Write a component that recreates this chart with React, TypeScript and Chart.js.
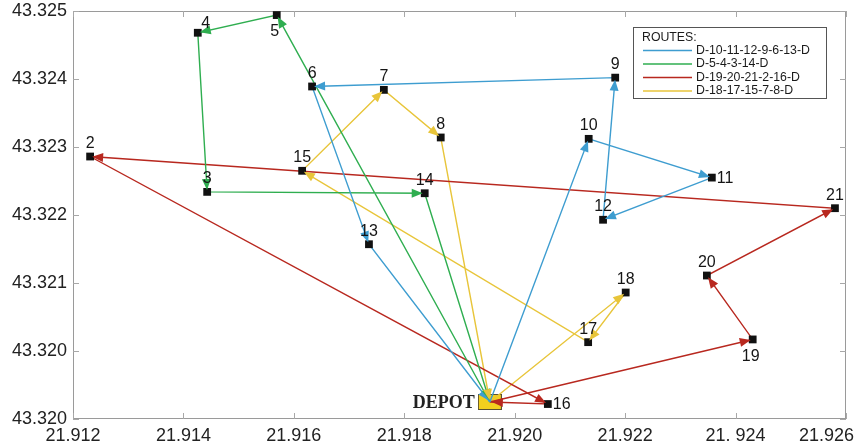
import React, { useEffect, useRef } from 'react';
import { Chart, registerables } from 'chart.js';

Chart.register(...registerables);

// ---- Data ----
const nodeIds = ['D', '2', '3', '4', '5', '6', '7', '8', '9', '10', '11', '12', '13', '14', '15', '16', '17', '18', '19', '20', '21'];
const nodeLon = [21.91955, 21.91231, 21.91443, 21.91426, 21.91569, 21.91633, 21.91763, 21.91866, 21.92182, 21.92134, 21.92357, 21.92160, 21.91736, 21.91837, 21.91615, 21.92060, 21.92133, 21.92201, 21.92431, 21.92348, 21.92580];
const nodeLat = [43.31925, 43.32286, 43.32234, 43.32468, 43.32494, 43.32389, 43.32384, 43.32314, 43.32402, 43.32312, 43.32255, 43.32193, 43.32157, 43.32232, 43.32265, 43.31922, 43.32013, 43.32086, 43.32017, 43.32111, 43.32210];
const labelPlacement = ['left', 'above', 'above', 'aboveRight', 'below', 'above', 'above', 'above', 'above', 'above', 'right', 'above', 'above', 'above', 'above', 'right', 'above', 'above', 'below', 'above', 'above'];
const depotLabel = 'DEPOT';

const legendTitle = 'ROUTES:';
const routeNames = ['D-10-11-12-9-6-13-D', 'D-5-4-3-14-D', 'D-19-20-21-2-16-D', 'D-18-17-15-7-8-D'];
const routeBlue = ['D', '10', '11', '12', '9', '6', '13', 'D'];
const routeGreen = ['D', '5', '4', '3', '14', 'D'];
const routeRed = ['D', '19', '20', '21', '2', '16', 'D'];
const routeYellow = ['D', '18', '17', '15', '7', '8', 'D'];
const routeColors = ['#3e9dd0', '#2fae50', '#b8281f', '#e8c53a'];

const xTickValues = [21.912, 21.914, 21.916, 21.918, 21.92, 21.922, 21.924, 21.926];
const xTickLabels = ['21.912', '21.914', '21.916', '21.918', '21.920', '21.922', '21. 924', '21.926'];
const yTickValues = [43.319, 43.32, 43.321, 43.322, 43.323, 43.324, 43.325];
const yTickLabels = ['43.320', '43.320', '43.321', '43.322', '43.323', '43.324', '43.325'];

const SANS = "'Liberation Sans', Arial, sans-serif";
const SERIF = "'Liberation Serif', 'Times New Roman', serif";

function routePoints(route: string[]) {
  return route.map((id) => {
    const i = nodeIds.indexOf(id);
    return { x: nodeLon[i], y: nodeLat[i] };
  });
}

const framePlugin = {
  id: 'frame',
  beforeDatasetsDraw(chart: any) {
    const { ctx, chartArea: a, scales } = chart;
    ctx.save();
    ctx.strokeStyle = '#9a9a9a';
    ctx.lineWidth = 1;
    ctx.strokeRect(a.left + 0.5, a.top + 0.5, a.right - a.left - 1, a.bottom - a.top - 1);
    ctx.strokeStyle = '#a8a8a8';
    const tl = 6;
    ctx.beginPath();
    xTickValues.forEach((v) => {
      const px = Math.round(scales.x.getPixelForValue(v)) + 0.5;
      ctx.moveTo(px, a.bottom);
      ctx.lineTo(px, a.bottom - tl);
      ctx.moveTo(px, a.top);
      ctx.lineTo(px, a.top + tl);
    });
    yTickValues.forEach((v) => {
      const py = Math.round(scales.y.getPixelForValue(v)) + 0.5;
      ctx.moveTo(a.left, py);
      ctx.lineTo(a.left + tl, py);
      ctx.moveTo(a.right, py);
      ctx.lineTo(a.right - tl, py);
    });
    ctx.stroke();
    ctx.restore();
  },
  afterDraw(chart: any) {
    // x tick labels (clamped inside the canvas)
    const { ctx, chartArea: a, scales, width } = chart;
    ctx.save();
    ctx.font = `18px ${SANS}`;
    ctx.fillStyle = '#222';
    ctx.textAlign = 'center';
    ctx.textBaseline = 'middle';
    xTickValues.forEach((v, i) => {
      let px = scales.x.getPixelForValue(v);
      const w = ctx.measureText(xTickLabels[i]).width;
      if (px + w / 2 > width - 3) px = width - 3 - w / 2;
      ctx.fillText(xTickLabels[i], px, a.bottom + 17);
    });
    ctx.restore();
  },
};

const arrowPlugin = {
  id: 'arrows',
  afterDatasetsDraw(chart: any) {
    const { ctx } = chart;
    ctx.save();
    chart.data.datasets.forEach((ds: any, di: number) => {
      if (ds.kind !== 'route') return;
      const pts = chart.getDatasetMeta(di).data;
      for (let i = 1; i < pts.length; i++) {
        const a = pts[i - 1];
        const b = pts[i];
        const dx = b.x - a.x;
        const dy = b.y - a.y;
        const len = Math.hypot(dx, dy) || 1;
        const ux = dx / len;
        const uy = dy / len;
        const tipX = b.x - ux * 2;
        const tipY = b.y - uy * 2;
        const L = 11;
        const W = 4.5;
        const bx = tipX - ux * L;
        const by = tipY - uy * L;
        ctx.beginPath();
        ctx.moveTo(tipX, tipY);
        ctx.lineTo(bx - uy * W, by + ux * W);
        ctx.lineTo(bx + uy * W, by - ux * W);
        ctx.closePath();
        ctx.fillStyle = ds.borderColor;
        ctx.fill();
      }
    });
    ctx.restore();
  },
};

const labelPlugin = {
  id: 'nodeLabels',
  afterDatasetsDraw(chart: any) {
    const { ctx, scales } = chart;
    ctx.save();
    nodeIds.forEach((id, i) => {
      const px = scales.x.getPixelForValue(nodeLon[i]);
      const py = scales.y.getPixelForValue(nodeLat[i]);
      const p = labelPlacement[i];
      if (id === 'D') {
        ctx.font = `bold 18px ${SERIF}`;
        ctx.fillStyle = '#222';
        ctx.textAlign = 'right';
        ctx.textBaseline = 'middle';
        ctx.fillText(depotLabel, px - 15, py + 1);
        return;
      }
      ctx.font = `16px ${SANS}`;
      ctx.fillStyle = '#151515';
      ctx.textBaseline = 'middle';
      if (p === 'above') {
        ctx.textAlign = 'center';
        ctx.fillText(id, px, py - 13);
      } else if (p === 'aboveRight') {
        ctx.textAlign = 'center';
        ctx.fillText(id, px + 8, py - 9);
      } else if (p === 'below') {
        ctx.textAlign = 'center';
        ctx.fillText(id, px - 2, py + 17);
      } else if (p === 'right') {
        ctx.textAlign = 'left';
        ctx.fillText(id, px + 5, py + 1);
      }
    });
    ctx.restore();
  },
};

const legendPlugin = {
  id: 'routesLegend',
  afterDraw(chart: any) {
    const { ctx, chartArea: a } = chart;
    const left = a.right - 213;
    const top = a.top + 16;
    const w = 194;
    const h = 72;
    ctx.save();
    ctx.fillStyle = '#ffffff';
    ctx.fillRect(left, top, w, h);
    ctx.strokeStyle = '#555';
    ctx.lineWidth = 1;
    ctx.strokeRect(left + 0.5, top + 0.5, w - 1, h - 1);
    ctx.font = `12.3px ${SANS}`;
    ctx.fillStyle = '#1a1a1a';
    ctx.textAlign = 'left';
    ctx.textBaseline = 'middle';
    ctx.fillText(legendTitle, left + 9, top + 11);
    const routes = chart.data.datasets.filter((d: any) => d.kind === 'route');
    routes.forEach((ds: any, i: number) => {
      const y = top + 23.5 + i * 13.5;
      ctx.strokeStyle = ds.borderColor;
      ctx.lineWidth = 1.5;
      ctx.beginPath();
      ctx.moveTo(left + 10, y);
      ctx.lineTo(left + 59, y);
      ctx.stroke();
      ctx.fillStyle = '#1a1a1a';
      ctx.fillText(ds.label, left + 63, y);
    });
    ctx.restore();
  },
};

export default function App() {
  const canvasRef = useRef<HTMLCanvasElement | null>(null);

  useEffect(() => {
    document.body.style.margin = '0';
    const canvas = canvasRef.current;
    if (!canvas) return;

    const depotImg = document.createElement('canvas');
    depotImg.width = 24;
    depotImg.height = 16;
    const dctx = depotImg.getContext('2d')!;
    dctx.fillStyle = '#f3cf1e';
    dctx.fillRect(0, 0, 24, 16);
    dctx.strokeStyle = '#5a5030';
    dctx.lineWidth = 1;
    dctx.strokeRect(0.5, 0.5, 23, 15);

    const routes = [routeBlue, routeGreen, routeRed, routeYellow];
    const di = nodeIds.indexOf('D');

    const datasets: any[] = routes.map((r, i) => ({
      kind: 'route',
      label: routeNames[i],
      data: routePoints(r),
      showLine: true,
      borderColor: routeColors[i],
      backgroundColor: routeColors[i],
      borderWidth: 1.4,
      pointRadius: 0,
      tension: 0,
      fill: false,
      order: 1,
    }));
    datasets.push({
      kind: 'nodes',
      label: 'nodes',
      data: nodeIds.map((id, i) => ({ x: nodeLon[i], y: nodeLat[i] })).filter((_, i) => nodeIds[i] !== 'D'),
      pointStyle: 'rect',
      pointRadius: 5.5,
      pointBorderWidth: 0,
      pointBackgroundColor: '#111',
      pointBorderColor: '#111',
      showLine: false,
      order: 0,
    });
    datasets.push({
      kind: 'depot',
      label: 'depot',
      data: [{ x: nodeLon[di], y: nodeLat[di] }],
      pointStyle: depotImg,
      pointRadius: 10,
      showLine: false,
      order: 5,
    });

    const chart = new Chart(canvas, {
      type: 'scatter',
      data: { datasets },
      options: {
        animation: false,
        responsive: false,
        devicePixelRatio: 1,
        events: [],
        layout: { padding: { top: 10, right: 10, left: 0, bottom: 0 } },
        plugins: {
          legend: { display: false },
          tooltip: { enabled: false },
          title: { display: false },
        },
        scales: {
          x: {
            type: 'linear',
            min: xTickValues[0],
            max: xTickValues[xTickValues.length - 1],
            afterBuildTicks: (s: any) => {
              s.ticks = xTickValues.map((v) => ({ value: v }));
            },
            ticks: { display: false },
            grid: { display: false, drawTicks: false },
            border: { display: false },
            afterFit: (s: any) => {
              s.height = 27;
              s.paddingLeft = 0;
              s.paddingRight = 0;
            },
          },
          y: {
            type: 'linear',
            min: yTickValues[0],
            max: yTickValues[yTickValues.length - 1],
            afterBuildTicks: (s: any) => {
              s.ticks = yTickValues.map((v) => ({ value: v }));
            },
            ticks: {
              autoSkip: false,
              padding: 6,
              color: '#222',
              font: { size: 18, family: SANS },
              callback: (_v: any, i: number) => yTickLabels[i],
            },
            grid: { display: false, drawTicks: false },
            border: { display: false },
            afterFit: (s: any) => {
              s.width = 73;
              s.paddingTop = 0;
              s.paddingBottom = 0;
            },
          },
        },
      },
      plugins: [framePlugin, arrowPlugin, labelPlugin, legendPlugin],
    } as any);

    return () => chart.destroy();
  }, []);

  return (
    <div style={{ width: 857, height: 446, background: '#fff' }}>
      <canvas ref={canvasRef} width={857} height={446} style={{ display: 'block' }} />
    </div>
  );
}
